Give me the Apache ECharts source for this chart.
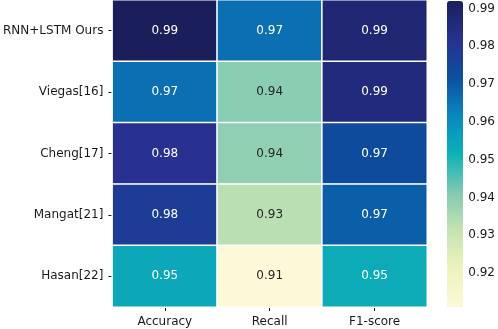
<!DOCTYPE html>
<html>
<head>
<meta charset="utf-8">
<script src="https://cdn.jsdelivr.net/npm/echarts@6/dist/echarts.min.js"></script>
<style>
  html, body { margin: 0; padding: 0; background: #fff; }
  #chart { width: 498px; height: 329px; }
</style>
</head>
<body>
<div id="chart"></div>
<script>
// rows (top to bottom) and columns
const methods = ["RNN+LSTM Ours", "Viegas[16]", "Cheng[17]", "Mangat[21]", "Hasan[22]"];
const metrics = ["Accuracy", "Recall", "F1-score"];
// scores per metric, same order as methods
const accuracy = [0.992, 0.966, 0.982, 0.978, 0.954];
const recall = [0.966, 0.940, 0.939, 0.933, 0.911];
const f1score = [0.988, 0.986, 0.973, 0.969, 0.953];
const barTicks = [0.92, 0.93, 0.94, 0.95, 0.96, 0.97, 0.98, 0.99];

const vMin = 0.911, vMax = 0.992;
// YlGnBu, as it looks in the picture (a bit more saturated)
const ylgnbu = ["#fdf9d8", "#eef3bc", "#c5e3b2", "#80c9b2", "#0db1b7",
                "#0a88c0", "#0c4f9f", "#283190", "#1a1f5c"];

const cols = [accuracy, recall, f1score];
const cells = [];
cols.forEach((arr, c) => {
  arr.forEach((v, r) => {
    const t = (v - vMin) / (vMax - vMin);
    // dark text on the light cells, like seaborn does
    cells.push({ value: [c, r, v], label: { color: t < 0.45 ? "#262626" : "#fff" } });
  });
});

const txt = "#1a1a1a";
const font = "DejaVu Sans";

const chart = echarts.init(document.getElementById("chart"));
chart.setOption({
  animation: false,
  grid: [
    { left: 111, top: 0, width: 316, height: 307 },
    // colorbar axis
    { left: 447, top: 1, width: 16, height: 306 }
  ],
  xAxis: [
    {
      type: "category", data: metrics, gridIndex: 0,
      axisLine: { show: false },
      axisTick: { show: true, alignWithLabel: true, length: 4, lineStyle: { color: txt } },
      axisLabel: { color: txt, fontFamily: font, fontSize: 12, margin: 9 },
      splitLine: { show: false }
    },
    { type: "value", gridIndex: 1, show: false, min: 0, max: 1 }
  ],
  yAxis: [
    {
      type: "category", data: methods, gridIndex: 0, inverse: true,
      axisLine: { show: false },
      axisTick: { show: true, alignWithLabel: true, length: 4, lineStyle: { color: txt } },
      axisLabel: { color: txt, fontFamily: font, fontSize: 12, margin: 9 },
      splitLine: { show: false }
    },
    {
      type: "value", gridIndex: 1, position: "right", min: vMin, max: vMax,
      axisLine: { show: false },
      axisTick: { show: true, length: 4, customValues: barTicks, lineStyle: { color: txt } },
      axisLabel: {
        customValues: barTicks, color: txt, fontFamily: font, fontSize: 12, margin: 7,
        formatter: v => v.toFixed(2)
      },
      splitLine: { show: false }
    }
  ],
  visualMap: {
    type: "continuous",
    min: vMin, max: vMax,
    seriesIndex: 0,
    calculable: false,
    orient: "vertical",
    left: 447, top: 1,
    itemWidth: 16, itemHeight: 306,
    padding: 0,
    text: ["", ""],
    inRange: { color: ylgnbu }
  },
  series: [
    {
      type: "heatmap",
      xAxisIndex: 0, yAxisIndex: 0,
      data: cells,
      itemStyle: { borderColor: "#fff", borderWidth: 1.5 },
      label: {
        show: true, fontFamily: font, fontSize: 12,
        formatter: p => p.value[2].toFixed(2)
      },
      emphasis: { disabled: true }
    },
    {
      type: "scatter", xAxisIndex: 1, yAxisIndex: 1, data: [], silent: true
    }
  ]
});
</script>
</body>
</html>
